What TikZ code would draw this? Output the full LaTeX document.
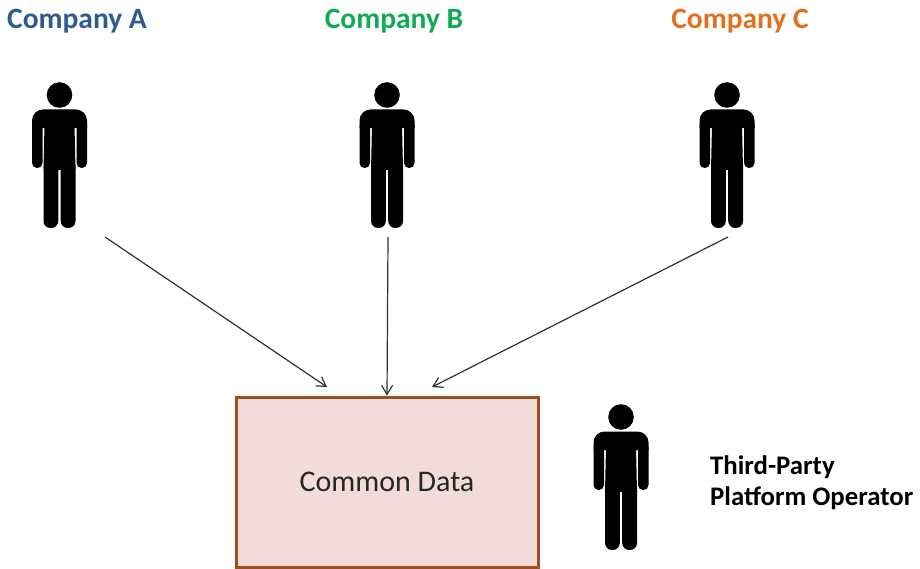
\documentclass[tikz,border=0pt]{standalone}
\usepackage{fontspec}
\setmainfont{Carlito}
\usetikzlibrary{arrows.meta}
\definecolor{compA}{HTML}{2F5C8F}
\definecolor{compB}{HTML}{12AB55}
\definecolor{compC}{HTML}{E2711D}
\definecolor{boxline}{HTML}{9E4F1E}
\definecolor{boxfill}{HTML}{F2DCDB}
\definecolor{link}{HTML}{303030}
\tikzset{
  x=1pt,y=-1pt,
  person/.pic={
    \fill[black] (0,0) circle[radius=12.8];
    \fill[black] (-27.5,33) [rounded corners=11] -- (-27.5,14.5) -- (27.5,14.5) [sharp corners] -- (27.5,33) -- cycle;
    \fill[black] (-15,30) -- (15,30) -- (16,75) -- (-16,75) -- cycle;
    \fill[black] (-27.5,30) -- (-17,30) [rounded corners=5] -- (-17,73) -- (-27.5,73) [sharp corners] -- cycle;
    \fill[black] (17,30) -- (27.5,30) [rounded corners=5] -- (27.5,73) -- (17,73) [sharp corners] -- cycle;
    \fill[black] (-16,70) -- (-1.2,70) [rounded corners=7] -- (-1.2,133) -- (-16,133) [sharp corners] -- cycle;
    \fill[black] (1.2,70) -- (16,70) [rounded corners=7] -- (16,133) -- (1.2,133) [sharp corners] -- cycle;
  },
  company/.style={font=\bfseries\fontsize{29.5}{32}\selectfont,anchor=center,inner sep=0},
  opertext/.style={font=\bfseries\fontsize{26.8}{31}\selectfont,anchor=north west,inner sep=0,align=left,text=black},
  databox/.style={draw=boxline,line width=3pt,fill=boxfill,minimum width=302pt,minimum height=170pt,inner sep=0,
    font=\fontsize{30}{33}\selectfont,text=black!85},
  feed/.style={draw=link,line width=1.2pt,-{Straight Barb[length=9pt,width=11pt]}},
}
\begin{document}
\begin{tikzpicture}
\useasboundingbox (0,0) rectangle (920,569);
\node[company,text=compA] (labelA) at (77,21.5) {Company A};
\node[company,text=compB] (labelB) at (394,21.5) {Company B};
\node[company,text=compC] (labelC) at (740,21.5) {Company C};
\pic at (59.5,95) {person};
\pic at (387,95) {person};
\pic at (727,95) {person};
\pic at (621,417) {person};
\node[databox] (data) at (387,482) {Common Data};
\node[opertext] (oper) at (710,455.5) {Third-Party\\Platform Operator};
\coordinate (fromA) at (105,237);
\coordinate (fromB) at (388,237);
\coordinate (fromC) at (728,237);
\coordinate (toA) at (327,387);
\coordinate (toC) at (432,387);
\draw[feed] (fromA) -- (toA);
\draw[feed] (fromB) -- (data.north);
\draw[feed] (fromC) -- (toC);
\end{tikzpicture}
\end{document}
